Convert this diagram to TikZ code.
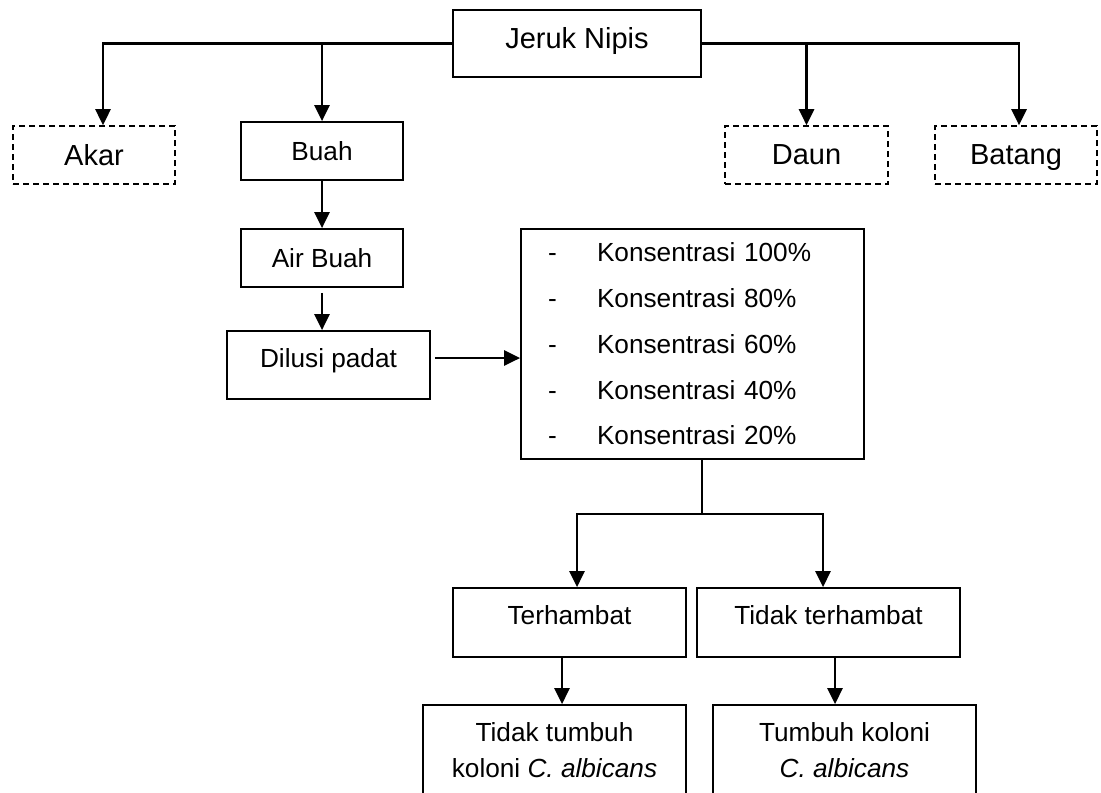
\documentclass[tikz,border=0pt]{standalone}
\usepackage{fontspec}
\setmainfont{Liberation Sans}
\usetikzlibrary{arrows.meta}

\begin{document}
\begin{tikzpicture}[
    x=0.5pt, y=-0.5pt,
    box/.style={draw, line width=0.85pt, rectangle, minimum width=81pt, minimum height=29pt, inner sep=0pt, align=center, font=\fontsize{13.1}{15.7}\selectfont},
    bigbox/.style={box, font=\fontsize{14.5}{17.4}\selectfont},
    dashedbox/.style={bigbox, line width=0.8pt, dash pattern=on 3pt off 2pt, text depth=0pt},
    listbox/.style={draw, line width=0.85pt, rectangle, minimum height=115pt, inner xsep=13.5pt, inner ysep=0pt, text width=144.5pt, align=left, font=\fontsize{13.1}{22.9}\selectfont},
    flow/.style={line width=1.35pt, -{Triangle[length=8pt, width=7.5pt]}},
    trunk/.style={line width=1pt}
]
    \useasboundingbox (0,0) rectangle (1101,792);

    % ================= PLANT PARTS =================
    \node[bigbox, minimum width=124pt, minimum height=33.5pt, text depth=5.7pt] (nipis) at (577, 43.5) {Jeruk Nipis};
    \node[dashedbox] (akar) at (94, 155) {Akar};
    \node[box] (buah) at (322, 151) {Buah};
    \node[dashedbox, minimum width=81.5pt] (daun) at (806.5, 155) {Daun};
    \node[dashedbox] (batang) at (1016, 155) {Batang};

    % ================= PREPARATION =================
    \node[box] (airbuah) at (322, 258) {Air Buah};
    \node[box, minimum width=101.5pt, minimum height=34pt, text depth=7.2pt] (dilusi) at (328.5, 365) {Dilusi padat};
    \node[listbox] (konsentrasi) at (692.5, 344) {%
        \makebox[24.5pt][l]{-}Konsentrasi 100\%\\
        \makebox[24.5pt][l]{-}Konsentrasi 80\%\\
        \makebox[24.5pt][l]{-}Konsentrasi 60\%\\
        \makebox[24.5pt][l]{-}Konsentrasi 40\%\\
        \makebox[24.5pt][l]{-}Konsentrasi 20\%};

    % ================= RESULTS =================
    \node[box, minimum width=116.5pt, minimum height=34.5pt, text depth=7.65pt] (terhambat) at (569.5, 622.5) {Terhambat};
    \node[box, minimum width=131.5pt, minimum height=34.5pt, text depth=7.65pt] (tidakterhambat) at (828.5, 622.5) {Tidak terhambat};
    \node[box, minimum width=131.5pt, minimum height=45pt, font=\fontsize{13.1}{18}\selectfont] (tidaktumbuh) at (554.5, 750) {Tidak tumbuh\\koloni \textit{C. albicans}};
    \node[box, minimum width=131.5pt, minimum height=45pt, font=\fontsize{13.1}{18}\selectfont] (tumbuh) at (844.5, 750) {Tumbuh koloni\\\textit{C. albicans}};

    % ================= CONNECTORS =================

    % Jeruk Nipis to its parts
    \draw[flow] (nipis.west) -| ([xshift=4.5pt]akar.north);
    \draw[flow] (nipis.west -| buah.north) -- (buah.north);
    \draw[flow] (nipis.east) -| ([xshift=1.5pt]batang.north);
    \draw[flow] (nipis.east -| daun.north) -- (daun.north);

    % Buah down to the dilutions
    \draw[flow] (buah.south) -- (airbuah.north);
    \draw[flow, shorten <=2.5pt] (airbuah.south) -- (airbuah.south |- dilusi.north);
    \draw[flow, shorten <=2pt] ([yshift=3.5pt]dilusi.east) -- ([yshift=3.5pt]dilusi.east -| konsentrasi.west);

    % Dilutions to the results
    \coordinate (split) at (702, 514);
    \draw[trunk] (konsentrasi.south -| split) -- (split);
    \draw[flow] (split) -| ([xshift=3.75pt]terhambat.north);
    \draw[flow] (split) -| ([xshift=-2.75pt]tidakterhambat.north);
    \draw[flow] ([xshift=-3.75pt]terhambat.south) -- ([xshift=-3.75pt]terhambat.south |- tidaktumbuh.north);
    \draw[flow] ([xshift=3.25pt]tidakterhambat.south) -- ([xshift=3.25pt]tidakterhambat.south |- tumbuh.north);

\end{tikzpicture}
\end{document}
